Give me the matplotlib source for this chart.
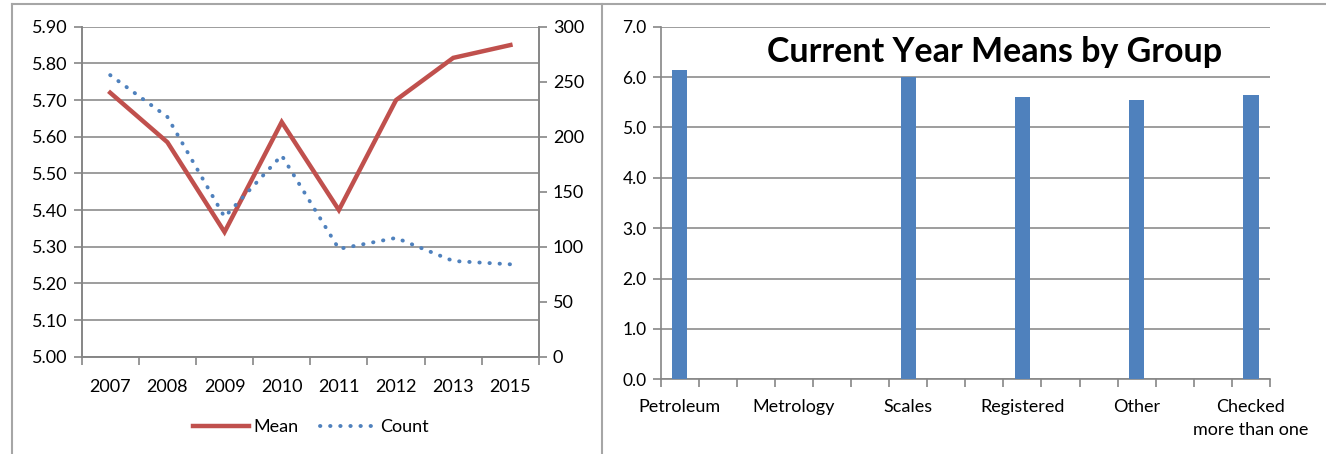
import matplotlib
matplotlib.use("Agg")
import matplotlib.pyplot as plt
from matplotlib.lines import Line2D

plt.rcParams['font.family'] = ['Lato', 'DejaVu Sans']

# left chart data
years = ["2007", "2008", "2009", "2010", "2011", "2012", "2013", "2015"]
mean_vals = [5.72, 5.585, 5.34, 5.64, 5.40, 5.70, 5.815, 5.85]
count_vals = [256, 218, 127, 183, 98, 108, 87, 84]

# right chart data (16 category slots, labels every 3rd)
groups = ["Petroleum", "Metrology", "Scales", "Registered", "Other", "Checked\nmore than one"]
group_means = [6.14, 0.0, 6.0, 5.61, 5.54, 5.65]
n_slots = 16

RED = "#C0504D"
BLUE = "#4F81BD"
GRID = "#8C8C8C"
AXC = "#868686"

fig = plt.figure(figsize=(13.26, 4.54), dpi=100)

# panel frame lines
frame = dict(color="#A6A6A6", lw=1.5, transform=fig.transFigure)
fig.add_artist(Line2D([12/1326, 1], [1-4/454, 1-4/454], **frame))
fig.add_artist(Line2D([12/1326, 12/1326], [0, 1-4/454], **frame))
fig.add_artist(Line2D([602/1326, 602/1326], [0, 1-4/454], **frame))

# ---- left chart ----
ax = fig.add_axes([81.6/1326, 1-356.7/454, (539-81.6)/1326, (356.7-26.7)/454])
ax2 = ax.twinx()
x = list(range(len(years)))
ax.plot(x, mean_vals, color=RED, lw=3.2, solid_joinstyle="miter", zorder=3)
ax2.plot(x, count_vals, color=BLUE, lw=2.8, ls=(0, (0.1, 2.5)), dash_capstyle="round", zorder=3)

ax.set_xlim(-0.5, len(years) - 0.5)
ax.set_ylim(5.0, 5.9)
ax.set_yticks([5.0 + 0.1*i for i in range(10)])
ax.set_yticklabels([f"{5.0 + 0.1*i:.2f}" for i in range(10)])
ax2.set_ylim(0, 300)
ax2.set_yticks(range(0, 301, 50))

ax.set_xticks(x)
ax.set_xticklabels(years)
ax.set_xticks([i - 0.5 for i in range(len(years) + 1)], minor=True)
ax.tick_params(axis="x", which="major", length=0, pad=16, labelsize=13)
ax.tick_params(axis="x", which="minor", length=6, width=1.2, color=AXC, direction="out")
ax.tick_params(axis="y", length=6, width=1.2, color=AXC, labelsize=13, pad=4)
ax2.tick_params(axis="y", length=6, width=1.2, color=AXC, labelsize=13, pad=4)
ax.grid(axis="y", color=GRID, lw=1.2)
ax.set_axisbelow(True)
for a in (ax, ax2):
    a.spines["top"].set_visible(False)
    for s in ("left", "right", "bottom"):
        a.spines[s].set_color(AXC)
        a.spines[s].set_linewidth(1.2)

handles = [Line2D([], [], color=RED, lw=3.2),
           Line2D([], [], color=BLUE, lw=2.8, ls=(0, (0.1, 2.5)), dash_capstyle="round")]
fig.legend(handles, ["Mean", "Count"], loc="center", bbox_to_anchor=(311/1326, 1-427/454),
           ncol=2, frameon=False, fontsize=13, handlelength=3.1, handletextpad=0.25,
           columnspacing=1.2)

# ---- right chart ----
bx = fig.add_axes([660.6/1326, 1-379.3/454, (1270-660.6)/1326, (379.3-26.7)/454])
pos = [i * 3 for i in range(len(groups))]
bx.bar(pos, group_means, width=0.4, color=BLUE, zorder=3)
bx.set_xlim(-0.5, n_slots - 0.5)
bx.set_ylim(0, 7)
bx.set_yticks(range(0, 8))
bx.set_yticklabels([f"{v:.1f}" for v in range(0, 8)])
bx.set_xticks(pos)
bx.set_xticklabels(groups, linespacing=1.55)
bx.set_xticks([i - 0.5 for i in range(n_slots + 1)], minor=True)
bx.tick_params(axis="x", which="major", length=0, pad=14, labelsize=13)
bx.tick_params(axis="x", which="minor", length=6, width=1.2, color=AXC, direction="out")
bx.tick_params(axis="y", length=6, width=1.2, color=AXC, labelsize=12.5, pad=4)
bx.grid(axis="y", color=GRID, lw=1.2)
bx.set_axisbelow(True)
for s in ("top", "right"):
    bx.spines[s].set_visible(False)
for s in ("left", "bottom"):
    bx.spines[s].set_color(AXC)
    bx.spines[s].set_linewidth(1.2)

fig.text(995/1326, 1-52/454, "Current Year Means by Group", ha="center", va="center",
         fontsize=24.5, fontweight="bold")

fig.savefig("out.png", dpi=100)
